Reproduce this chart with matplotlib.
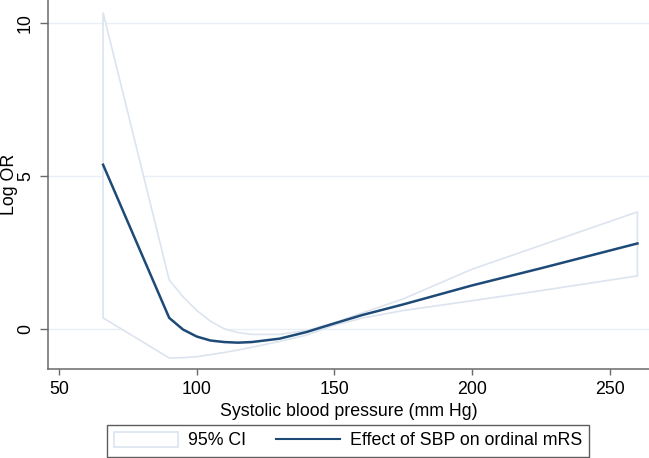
import numpy as np
import matplotlib
matplotlib.use("Agg")
import matplotlib.pyplot as plt
from matplotlib.patches import Patch
from matplotlib.lines import Line2D

plt.rcParams['font.family'] = ['Liberation Sans', 'DejaVu Sans']

# systolic blood pressure (mm Hg)
sbp = [66, 90, 95, 100, 105, 110, 115, 120, 130, 140, 150, 160, 175, 200, 225, 260]
# effect of SBP (log OR) and 95% CI
effect = [5.36, 0.36, -0.02, -0.25, -0.38, -0.43, -0.45, -0.43, -0.32, -0.1,
          0.18, 0.45, 0.8, 1.42, 1.98, 2.79]
ci_upper = [10.33, 1.6, 1.05, 0.6, 0.25, 0.0, -0.12, -0.18, -0.18, -0.05,
            0.2, 0.52, 0.98, 1.95, 2.73, 3.82]
ci_lower = [0.36, -0.95, -0.94, -0.91, -0.84, -0.77, -0.69, -0.6, -0.41, -0.2,
            0.12, 0.35, 0.6, 0.92, 1.25, 1.73]

xticks = [50, 100, 150, 200, 250]
yticks = [0, 5, 10]

ci_col = '#dce4ef'
line_col = '#1d4a76'
axis_col = '#6a6a6a'
fs = 12.8

fig = plt.figure(figsize=(6.49, 4.58), dpi=100)
ax = fig.add_axes([48/649, 1 - 369/458, 1 - 48/649, 369/458])

# CI band drawn as an outlined polygon
xs = np.array(sbp, dtype=float)
poly_x = np.concatenate([xs, xs[::-1], xs[:1]])
poly_y = np.concatenate([ci_upper, ci_lower[::-1], ci_upper[:1]])
ax.fill(poly_x, poly_y, facecolor='white', edgecolor=ci_col, linewidth=1.2, zorder=2)
ax.plot(sbp, effect, color=line_col, linewidth=1.8, zorder=3)

ax.set_xlim(46.0, 264.2)
ax.set_ylim(-1.31, 10.74)
ax.set_xticks(xticks)
ax.set_yticks(yticks)
ax.yaxis.grid(True, color='#e9eff5', linewidth=1.0, zorder=0)
ax.set_axisbelow(True)

for s in ['top', 'right']:
    ax.spines[s].set_visible(False)
for s in ['left', 'bottom']:
    ax.spines[s].set_color(axis_col)
    ax.spines[s].set_linewidth(1.1)

ax.tick_params(axis='both', colors=axis_col, labelcolor='black', labelsize=fs, width=1.0)
ax.tick_params(axis='x', length=4, pad=5)
ax.tick_params(axis='y', length=6, pad=4)
for lab in ax.get_yticklabels():
    lab.set_rotation(90)
    lab.set_va('center')

ax.set_xlabel('Systolic blood pressure (mm Hg)', fontsize=fs, labelpad=3)
# y label placed by hand so it stays inside the figure
fig.text(9/649, 1 - 184/458, 'Log OR', rotation=90, ha='center', va='center', fontsize=fs)

handles = [Patch(facecolor='white', edgecolor=ci_col, linewidth=1.2),
           Line2D([0], [0], color=line_col, linewidth=1.5)]
leg = fig.legend(handles, ['95% CI', 'Effect of SBP on ordinal mRS'],
                 loc='lower center', bbox_to_anchor=(348/649, 1.5/458),
                 ncol=2, fontsize=fs, frameon=True, fancybox=False,
                 handlelength=3.6, handleheight=0.9, handletextpad=0.55,
                 columnspacing=1.7, borderpad=0.4, borderaxespad=0)
leg.get_frame().set_edgecolor('#333333')
leg.get_frame().set_linewidth(1.0)

fig.savefig('out.png', dpi=100)
